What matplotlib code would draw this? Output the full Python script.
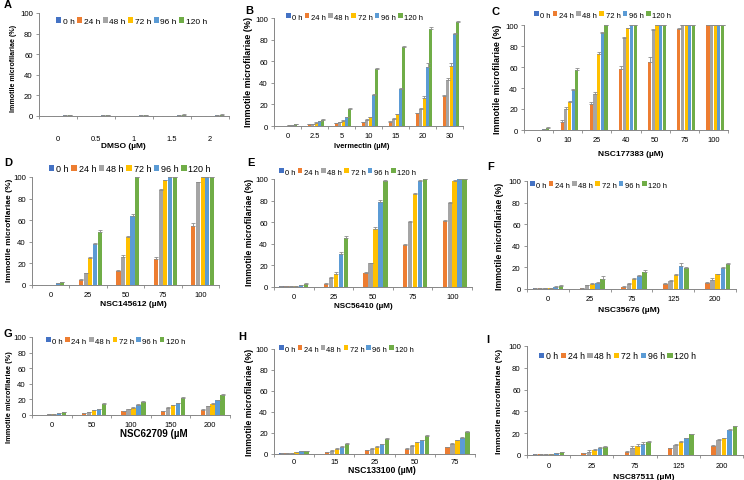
import matplotlib
matplotlib.use('Agg')
import matplotlib.pyplot as plt
import numpy as np

plt.rcParams['font.family'] = ['Liberation Sans', 'DejaVu Sans']

# series (hours) and colours
horas = ['0 h', '24 h', '48 h', '72 h', '96 h', '120 h']
colores = ['#4472C4', '#ED7D31', '#A5A5A5', '#FFC000', '#5B9BD5', '#70AD47']

# A - DMSO
dmso_cat = ['0', '0.5', '1', '1.5', '2']
dmso_val = [[0, 0, 0, 0, 0],
            [0, 0, 0, 0, 0],
            [0, 0, 0, 0, 0],
            [0, 0, 0, 0, 0],
            [0.6, 0.6, 0.6, 1, 1],
            [1, 1, 1, 1.2, 1.2]]
dmso_err = [[0] * 5, [0] * 5, [0] * 5, [0] * 5, [0.2] * 5, [0.3] * 5]

# B - Ivermectin
iver_cat = ['0', '2.5', '5', '10', '15', '20', '30']
iver_val = [[0, 0, 0, 0, 0, 0, 0],
            [0, 2, 2.5, 3.5, 4, 12, 28],
            [0, 2, 3.5, 6, 6.5, 16, 43],
            [0.5, 3, 5, 8, 11, 26, 56],
            [1, 4.3, 8, 29, 34, 55, 85],
            [1.5, 6, 16, 53, 73, 90, 96]]
iver_err = [[0] * 7,
            [0, 0.3, 0.3, 0.5, 0.5, 0.5, 1],
            [0, 0.3, 0.5, 0.5, 0.5, 1, 1.5],
            [0, 0.5, 0.5, 0.5, 0.5, 1.5, 2],
            [0.3, 0.5, 0.5, 1, 1.5, 3, 1],
            [0.5, 0.5, 1, 0.5, 1, 1.5, 1]]

# C - NSC177383
c_cat = ['0', '10', '25', '40', '50', '75', '100']
c_val = [[0, 0, 0, 0, 0, 0, 0],
         [0, 8, 25, 58, 65, 96, 100],
         [0, 20, 34, 88, 95, 100, 100],
         [0, 27, 72, 97, 100, 100, 100],
         [0.7, 38, 92, 100, 100, 100, 100],
         [2, 57, 100, 100, 100, 100, 100]]
c_err = [[0] * 7,
         [0, 1.5, 1.5, 3, 5, 1.5, 0],
         [0, 1.5, 2, 1, 1, 0, 0],
         [0, 1, 2, 0.5, 0, 0, 0],
         [0.3, 1.5, 1, 0, 0, 0, 0],
         [0.5, 2.5, 0, 0, 0, 0, 0]]

# D - NSC145612
d_cat = ['0', '25', '50', '75', '100']
d_val = [[0, 0, 0, 0, 0],
         [0, 5, 13, 24, 55],
         [0, 11, 26, 88, 95],
         [0, 25, 44, 97, 100],
         [1.5, 38, 64, 100, 100],
         [2.5, 49, 100, 100, 100]]
d_err = [[0] * 5,
         [0, 0.5, 1, 2, 2.5],
         [0, 0.5, 2, 1, 0.5],
         [0, 1, 1, 0.5, 0],
         [0.3, 1, 2, 0, 0],
         [0.3, 2, 0, 0, 0]]

# E - NSC56410
e_cat = ['0', '25', '50', '75', '100']
e_val = [[0.5, 0, 0, 0, 0],
         [0.5, 3, 13, 39, 61],
         [0.5, 8, 22, 60, 78],
         [0.5, 12, 54, 86, 98],
         [1.5, 31, 79, 98, 100],
         [3, 45, 98, 100, 100]]
e_err = [[0] * 5,
         [0, 0.5, 0.5, 1, 1.5],
         [0, 1, 0, 1.5, 1],
         [0, 1.5, 2, 1, 1],
         [0.3, 1.5, 1.5, 1.5, 0],
         [0.5, 2, 1.5, 0, 0]]

# F - NSC35676
f_cat = ['0', '25', '75', '125', '200']
f_val = [[0.5, 0, 0, 0, 0],
         [0.5, 1, 2, 5, 6],
         [0.5, 3.5, 4.5, 7, 8],
         [1, 5, 9.5, 13, 13.5],
         [2, 6, 12.5, 21, 19],
         [3, 9.5, 16, 19, 23.5]]
f_err = [[0] * 5,
         [0, 0.3, 1, 0.5, 0.3],
         [0, 0.5, 1, 1.5, 2],
         [0, 0.5, 0.5, 1, 0.5],
         [0.5, 0.5, 0.5, 3.5, 1],
         [0.3, 2.5, 1.5, 1.5, 0.5]]

# G - NSC62709
g_cat = ['0', '50', '100', '150', '200']
g_val = [[0.5, 0, 0, 0, 0],
         [0.5, 2, 4.5, 5, 7],
         [1.2, 3.5, 7.5, 8.5, 11.5],
         [1.5, 6, 9.5, 12.5, 14.5],
         [2.5, 8, 12.5, 15, 19],
         [3.5, 14, 17, 22, 26]]
g_err = [[0] * 5,
         [0, 0, 0.3, 0.5, 0.3],
         [0.3, 0.5, 0.5, 1.5, 0.3],
         [0.3, 0.5, 0.5, 0.5, 1],
         [0.5, 0.3, 1.5, 1, 0.5],
         [0.3, 1, 1.5, 0.5, 0.5]]

# H - NSC133100
h_cat = ['0', '15', '25', '50', '75']
h_val = [[0.5, 0, 0, 0, 0],
         [0.5, 1.5, 3.5, 5, 6.5],
         [0.7, 3, 5, 8, 10],
         [2, 5, 7, 11, 13],
         [2.5, 7, 9.5, 13, 15.5],
         [2.5, 9.5, 14, 17, 20.5]]
h_err = [[0] * 5,
         [0, 0.3, 0.5, 0.3, 0.5],
         [0, 0.5, 0.3, 0.3, 0.3],
         [0.3, 0.3, 0.5, 0.5, 0.3],
         [0.3, 0.5, 0.5, 0.3, 1],
         [0.3, 1, 1.5, 1, 1.5]]

# I - NSC87511
i_cat = ['0', '25', '75', '125', '200']
i_val = [[0.5, 0, 0, 0, 0],
         [0.5, 1.5, 3, 6, 8.5],
         [0.5, 3, 6.5, 9.5, 14],
         [0.7, 4.5, 8.5, 12, 15.5],
         [1.5, 6, 10, 15.5, 22.5],
         [2.5, 7, 11.5, 19, 26.5]]
i_err = [[0] * 5,
         [0, 0.5, 1, 0.3, 0.3],
         [0, 1.5, 1.5, 1, 0.5],
         [0.3, 1, 1.5, 1, 0.5],
         [0.3, 1, 1.5, 0.5, 1],
         [0.3, 1.5, 1, 0.5, 0.5]]

#%%
W, H = 744, 481
fig = plt.figure(figsize=(W / 100, H / 100), dpi=100)
gris = '#868686'


def px(x, y):
    # pixeles (desde arriba-izq) -> coords de figura
    return x / W, 1 - y / H


def panel(caja, letra, pos_letra, cats, vals, errs, xlab, pos_xlab, fs_xlab,
          pos_ylab, fs_ylab, leg, fs_leg, xpad):
    """caja = (izq, der, arriba, abajo) en pixeles"""
    l, r, t, b = caja
    ax = fig.add_axes([l / W, 1 - b / H, (r - l) / W, (b - t) / H])
    n = len(cats)
    x = np.arange(n)
    w = 0.125
    for k in range(6):
        ax.bar(x + (k - 2.5) * w, vals[k], w * 0.88, color=colores[k], label=horas[k], zorder=2)
        err = np.array(errs[k])
        ax.errorbar(x + (k - 2.5) * w, vals[k], yerr=[np.zeros(n), err], fmt='none',
                    ecolor='#8c8c8c', elinewidth=0.6, capsize=1.3, capthick=0.6, zorder=3)
    ax.set_xlim(-0.5, n - 0.5)
    ax.set_ylim(0, 100)
    ax.set_yticks(range(0, 101, 20))
    ax.set_xticks(np.arange(n + 1) - 0.5)
    ax.set_xticklabels([])
    ax.set_xticks(x, minor=True)
    ax.set_xticklabels(cats, minor=True)
    ax.tick_params(axis='x', which='major', length=2.5, color=gris, width=0.6)
    ax.tick_params(axis='x', which='minor', length=0, pad=xpad, labelsize=5.4)
    ax.tick_params(axis='y', length=2.5, color=gris, width=0.6, pad=2, labelsize=5.6)
    for s in ['top', 'right']:
        ax.spines[s].set_visible(False)
    for s in ['left', 'bottom']:
        ax.spines[s].set_color(gris)
        ax.spines[s].set_linewidth(0.7)
    fig.text(*px(*pos_xlab), xlab, fontsize=fs_xlab, fontweight='bold', ha='center', va='center')
    fig.text(*px(*pos_ylab), 'Immotile microfilariae (%)', fontsize=fs_ylab, fontweight='bold',
             rotation=90, ha='center', va='center')
    ax.legend(loc='center left', bbox_to_anchor=px(*leg),
              bbox_transform=fig.transFigure, ncol=6, frameon=False, fontsize=fs_leg,
              handlelength=0.6, handleheight=0.6, handletextpad=0.2, columnspacing=0.3,
              borderpad=0, borderaxespad=0)
    fig.text(*px(*pos_letra), letra, fontsize=8, fontweight='bold', ha='left', va='center')
    return ax


panel((39, 229, 14, 117), 'A', (4, 5), dmso_cat, dmso_val, dmso_err,
      'DMSO (µM)', (123, 146), 6.0, (14, 68), 5.1, (56, 22), 6.0, 14)
panel((274, 463, 19, 127), 'B', (245, 11), iver_cat, iver_val, iver_err,
      'Ivermectin (µM)', (362, 146), 5.4, (249, 72), 6.5, (286, 18), 5.5, 4)
panel((524, 728, 26, 131), 'C', (492, 12), c_cat, c_val, c_err,
      'NSC177383 (µM)', (631, 154), 6.0, (498, 79), 6.4, (534, 16), 5.5, 4)
panel((32, 219, 178, 286), 'D', (4, 163), d_cat, d_val, d_err,
      'NSC145612 (µM)', (133, 305), 6.1, (10, 230), 6.0, (49, 170), 6.5, 4)
panel((274, 472, 180, 288), 'E', (247, 163), e_cat, e_val, e_err,
      'NSC56410 (µM)', (363, 307), 5.9, (250, 232), 6.3, (279, 173), 5.5, 4)
panel((527, 736, 182, 290), 'F', (487, 167), f_cat, f_val, f_err,
      'NSC35676 (µM)', (629, 310), 6.1, (500, 236), 6.3, (530, 186), 5.5, 4)
panel((32, 230, 338, 416), 'G', (4, 334), g_cat, g_val, g_err,
      'NSC62709 (µM', (154, 434), 7.0, (10, 397), 5.4, (46, 342), 5.6, 4)
panel((274, 475, 350, 455), 'H', (238, 337), h_cat, h_val, h_err,
      'NSC133100 (µM)', (382, 471), 6.2, (250, 402), 6.3, (279, 350), 5.4, 3)
panel((527, 743, 347, 456), 'I', (486, 340), i_cat, i_val, i_err,
      'NSC87511 (µM)', (644, 478), 6.1, (500, 401), 6.1, (539, 357), 6.3, 5)

plt.savefig('out.png', dpi=100)
